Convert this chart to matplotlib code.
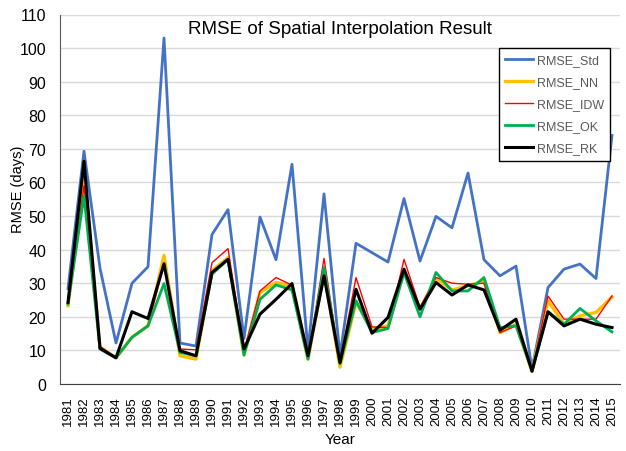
import matplotlib.pyplot as plt

plt.rcParams['font.family'] = ['Liberation Sans', 'DejaVu Sans']

# Years and RMSE values per interpolation method
years = list(range(1981, 2016))
rmse_std = [28.4, 69.3, 34.5, 12.2, 30.0, 34.9, 103.0, 12.2, 11.3, 44.5,
            51.9, 13.5, 49.7, 37.0, 65.4, 10.0, 56.6, 8.4, 41.9, 39.1,
            36.3, 55.2, 36.6, 49.9, 46.5, 62.8, 37.0, 32.2, 35.1, 4.5,
            28.7, 34.2, 35.7, 31.4, 74.0]
rmse_nn = [23.3, 62.0, 11.0, 7.8, 13.9, 17.3, 38.3, 8.4, 7.4, 33.7,
           37.6, 8.7, 27.2, 30.2, 29.2, 7.4, 33.2, 5.0, 24.3, 16.3,
           17.3, 33.7, 22.3, 31.4, 28.0, 29.2, 30.7, 15.3, 17.8, 3.8,
           24.8, 17.8, 20.3, 21.3, 25.9]
rmse_idw = [24.0, 59.0, 11.2, 7.8, 14.0, 17.5, 35.6, 10.4, 10.2, 36.1,
            40.3, 9.9, 27.7, 31.7, 29.4, 7.9, 37.4, 6.4, 31.7, 17.0,
            16.8, 37.1, 22.8, 31.7, 30.0, 29.7, 30.0, 15.3, 17.3, 4.0,
            26.2, 19.3, 19.3, 19.3, 26.2]
rmse_ok = [23.8, 56.0, 10.4, 7.8, 13.9, 17.3, 29.9, 9.4, 8.4, 32.7,
           37.1, 8.6, 25.2, 29.5, 28.0, 7.4, 34.7, 6.0, 24.8, 15.3,
           16.5, 33.2, 20.0, 33.2, 27.7, 27.7, 31.7, 16.8, 17.3, 4.0,
           21.5, 17.8, 22.5, 18.8, 15.5]
rmse_rk = [24.3, 66.3, 10.6, 7.8, 21.5, 19.5, 35.8, 9.9, 8.4, 33.2,
           37.1, 10.4, 20.8, 25.2, 29.9, 8.4, 32.2, 6.4, 28.2, 15.1,
           19.8, 34.2, 22.3, 30.2, 26.5, 29.5, 28.0, 16.0, 19.3, 3.8,
           21.5, 17.3, 19.3, 17.8, 16.8]

fig = plt.figure(figsize=(6.26, 4.52), dpi=100)
ax = fig.add_axes([60 / 626, 1 - 385 / 452, 560 / 626, 369.5 / 452])

x = list(range(len(years)))
ax.plot(x, rmse_std, c='#4472C4', lw=2.0, label='RMSE_Std')
ax.plot(x, rmse_nn, c='#FFC000', lw=2.4, label='RMSE_NN')
ax.plot(x, rmse_idw, c='#FF0000', lw=1.0, label='RMSE_IDW')
ax.plot(x, rmse_ok, c='#00B050', lw=2.0, label='RMSE_OK')
ax.plot(x, rmse_rk, c='#000000', lw=2.2, label='RMSE_RK')

# Axes and grid
ax.set_xlim(-0.5, len(years) - 0.5)
ax.set_ylim(0, 110)
ax.set_yticks(range(0, 111, 10))
ax.set_xticks(x)
ax.set_xticklabels([str(y) for y in years], rotation=90, fontsize=9.5)
ax.tick_params(axis='y', labelsize=11.5, length=0, pad=10)
ax.tick_params(axis='x', length=0, pad=8)
ax.grid(axis='y', color='#D9D9D9', lw=1)
ax.set_axisbelow(True)
for side in ['top', 'right']:
    ax.spines[side].set_visible(False)
ax.spines['left'].set_color('#595959')
ax.spines['bottom'].set_color('#404040')

ax.set_xlabel('Year', fontsize=11)
ax.xaxis.set_label_coords(0.5, -0.13)
ax.set_ylabel('RMSE (days)', fontsize=10.5)
ax.yaxis.set_label_coords(-0.0625, 0.53)
ax.text(0.5, 0.963, 'RMSE of Spatial Interpolation Result', transform=ax.transAxes,
        ha='center', va='center', fontsize=13.5)

leg = ax.legend(loc='upper right', bbox_to_anchor=(0.982, 0.909), fontsize=9,
                fancybox=False, framealpha=1, edgecolor='black',
                handlelength=2.25, handletextpad=0.27, labelspacing=0.8,
                borderpad=0.5, borderaxespad=0)
leg.get_frame().set_linewidth(1.0)
for t in leg.get_texts():
    t.set_color('#595959')

plt.savefig('out.png', dpi=100)
